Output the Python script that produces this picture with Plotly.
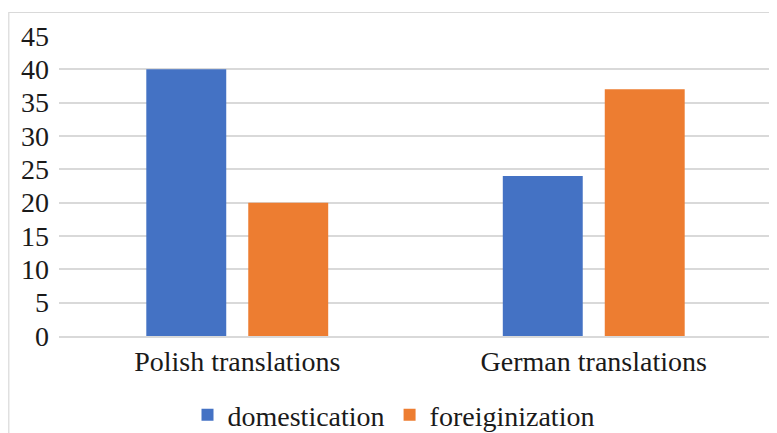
import plotly.graph_objects as go

categories = ["Polish translations", "German translations"]
domestication = [40, 24]
foreiginization = [20, 37]

BLUE = "#4472C4"
ORANGE = "#ED7D31"
GRID = "#d9d9d9"
FONT = "'Times New Roman', 'Liberation Serif', serif"

# the page body adds an 8px margin, so the figure is sized/offset to compensate
OFF = 8
W, H = 777 - OFF, 433 - OFF
L, R, T, B = 59 - OFF, 5, 36 - OFF, 97
pw, ph = W - L - R, H - T - B

fig = go.Figure()
fig.add_trace(go.Bar(x=categories, y=domestication, name="domestication",
                     marker=dict(color=BLUE, line=dict(width=0))))
fig.add_trace(go.Bar(x=categories, y=foreiginization, name="foreiginization",
                     marker=dict(color=ORANGE, line=dict(width=0))))

# outer chart border (Excel-style frame)
fig.add_shape(type="rect", xref="paper", yref="paper",
              x0=(0.8 - L) / pw, x1=(W - 1 - L) / pw,
              y0=-(H + 20 - (T + ph)) / ph, y1=(T + ph - 4.5) / ph,
              line=dict(color=GRID, width=1.2), layer="below")

fig.update_layout(
    width=W, height=H,
    margin=dict(l=L, r=R, t=T, b=B, autoexpand=False),
    paper_bgcolor="white", plot_bgcolor="white",
    font=dict(family=FONT, size=28, color="#1a1a1a"),
    barmode="group", bargap=0.428, bargroupgap=0.216,
    showlegend=True,
    legend=dict(orientation="h", x=0.5 - 22 / pw, xanchor="center",
                yref="container", y=1 - 407 / H, yanchor="middle",
                font=dict(size=28), itemwidth=30, traceorder="normal"),
)
fig.update_xaxes(showgrid=False, showline=True, linecolor=GRID, linewidth=1.5,
                 ticks="", tickfont=dict(size=28))
fig.update_yaxes(range=[0, 45], dtick=5, showgrid=True, gridcolor=GRID, gridwidth=1.5,
                 zeroline=False, showline=False, ticks="", tickfont=dict(size=28),
                 ticklabelstandoff=9)

fig.write_html("out.html")
